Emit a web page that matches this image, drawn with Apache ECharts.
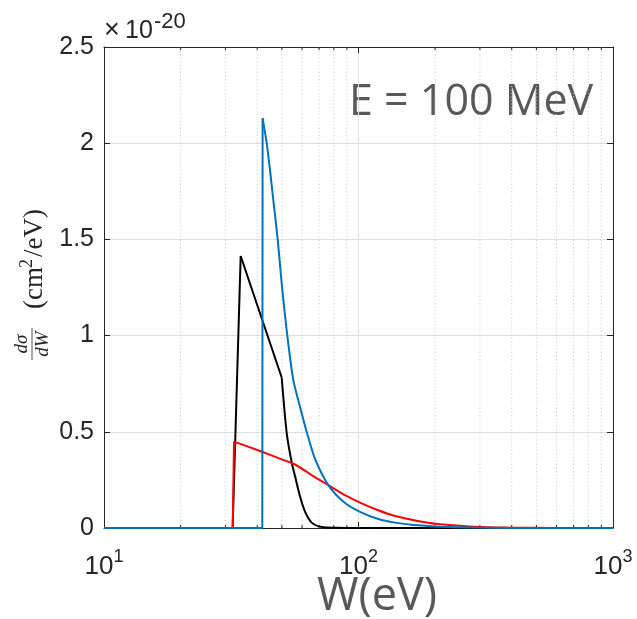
<!DOCTYPE html>
<html>
<head>
<meta charset="utf-8">
<script src="https://cdn.jsdelivr.net/npm/echarts@6/dist/echarts.min.js"></script>
<style>
html,body{margin:0;padding:0;background:#fff;}
#chart{width:637px;height:619px;}
</style>
</head>
<body>
<div id="chart"></div>
<script>
// ---- data (W in eV, dσ/dW in units of 1e-20 cm^2/eV) ----
const blackW = [10, 32.02, 34.44, 49.91, 52.24, 54.65, 56.30, 58.90, 61.64, 65.46, 71.68, 82.08, 100, 1000];
const blackY = [0, 0, 1.414, 0.782, 0.492, 0.34, 0.27, 0.165, 0.085, 0.028, 0.005, 0.001, 0, 0];

const redW = [10, 32.05, 32.43, 41.02, 49.91, 56.30, 65.46, 76.08, 88.50, 102.9, 119.6, 139.2, 161.8, 182.5, 209.1, 282.6, 382.2, 600, 1000];
const redY = [0, 0, 0.449, 0.40, 0.357, 0.33, 0.275, 0.223, 0.171, 0.128, 0.092, 0.062, 0.043, 0.030, 0.019, 0.007, 0.002, 0.0005, 0];

const blueW = [10, 41.88, 42.0, 43.58, 44.90, 46.26, 48.14, 49.91, 52.51, 55.43, 58.90, 62.57, 67.45, 76.08, 88.50, 102.9, 119.6, 139.2, 161.8, 182.5, 209.1, 282.6, 400, 1000];
const blueY = [0, 0, 2.13, 2.0, 1.861, 1.705, 1.5, 1.272, 1.0, 0.77, 0.63, 0.50, 0.36, 0.223, 0.13, 0.08, 0.047, 0.028, 0.017, 0.012, 0.007, 0.002, 0.0005, 0];

// index where each curve's sharp corner ends and the smooth decay begins
const blackCorner = 3, redCorner = 2, blueCorner = 2;

const minorW = [20, 30, 40, 50, 60, 70, 80, 90, 200, 300, 400, 500, 600, 700, 800, 900];

const zip = (xs, ys) => xs.map((x, i) => [x, ys[i]]);

const AX = '#262626';
const GRID = '#dedede';
const C_BLACK = '#000000', C_RED = '#ff0000', C_BLUE = '#0072bd';

const lineSeries = (data, color, z, smooth) => ({
  type: 'line', data, showSymbol: false, symbol: 'none', z, smooth,
  lineStyle: {color, width: 2}, itemStyle: {color}
});

const chart = echarts.init(document.getElementById('chart'), null, {renderer: 'canvas'});

const option = {
  animation: false,
  backgroundColor: '#ffffff',
  grid: {left: 104, right: 24, top: 47, bottom: 91, containLabel: false},
  xAxis: [{
    type: 'log', logBase: 10, min: 10, max: 1000,
    axisLine: {show: true, onZero: false, lineStyle: {color: AX, width: 1}},
    axisTick: {show: true, inside: true, length: 6, lineStyle: {color: AX}},
    splitLine: {show: true, lineStyle: {color: GRID, width: 1}},
    axisLabel: {
      margin: 20, color: AX,
      formatter: v => '{b|10}{s|' + Math.round(Math.log10(v)) + '}',
      rich: {
        b: {fontSize: 26, fontFamily: 'Liberation Sans', color: AX, lineHeight: 32, verticalAlign: 'bottom'},
        s: {fontSize: 18, fontFamily: 'Liberation Sans', color: AX, lineHeight: 18, verticalAlign: 'top'}
      }
    }
  }, {
    type: 'log', logBase: 10, min: 10, max: 1000, position: 'top',
    axisLine: {show: true, onZero: false, lineStyle: {color: AX, width: 1}},
    axisTick: {show: true, inside: true, length: 6, lineStyle: {color: AX}},
    axisLabel: {show: false}, splitLine: {show: false}
  }],
  yAxis: [{
    type: 'value', min: 0, max: 2.5, interval: 0.5,
    axisLine: {show: true, onZero: false, lineStyle: {color: AX, width: 1}},
    axisTick: {show: true, inside: true, length: 6, lineStyle: {color: AX}},
    splitLine: {show: true, lineStyle: {color: GRID, width: 1}},
    axisLabel: {fontSize: 25, fontFamily: 'Liberation Sans', color: AX, margin: 10,
      formatter: v => String(v)}
  }, {
    type: 'value', min: 0, max: 2.5, interval: 0.5, position: 'right',
    axisLine: {show: true, onZero: false, lineStyle: {color: AX, width: 1}},
    axisTick: {show: true, inside: true, length: 6, lineStyle: {color: AX}},
    axisLabel: {show: false}, splitLine: {show: false}
  }],
  series: [{
    type: 'custom', xAxisIndex: 0, yAxisIndex: 0, z: 1, silent: true,
    data: minorW.map(w => [w, 0]),
    encode: {x: 0, y: 1},
    renderItem: (params, api) => {
      const w = api.value(0);
      const p0 = api.coord([w, 0]);
      const p1 = api.coord([w, 2.5]);
      return {
        type: 'group',
        children: [
          {type: 'line', shape: {x1: p0[0], y1: p0[1], x2: p1[0], y2: p1[1]},
           style: {stroke: '#c8c8c8', lineWidth: 1, lineDash: [1, 2.5]}},
          {type: 'line', shape: {x1: p0[0], y1: p0[1], x2: p0[0], y2: p0[1] - 3},
           style: {stroke: AX, lineWidth: 1}},
          {type: 'line', shape: {x1: p1[0], y1: p1[1], x2: p1[0], y2: p1[1] + 3},
           style: {stroke: AX, lineWidth: 1}}
        ]
      };
    }
  },
  lineSeries(zip(blackW, blackY).slice(0, blackCorner + 1), C_BLACK, 3, false),
  lineSeries(zip(blackW, blackY).slice(blackCorner), C_BLACK, 3, 0.25),
  lineSeries(zip(redW, redY).slice(0, redCorner + 1), C_RED, 4, false),
  lineSeries(zip(redW, redY).slice(redCorner), C_RED, 4, 0.25),
  lineSeries(zip(blueW, blueY).slice(0, blueCorner + 1), C_BLUE, 5, false),
  lineSeries(zip(blueW, blueY).slice(blueCorner), C_BLUE, 5, 0.25)
  ],
  graphic: [
    {type: 'text', x: 104, y: 31, silent: true,
     style: {text: '×', fontSize: 27, fontFamily: 'Liberation Sans', fill: AX, verticalAlign: 'middle'}},
    {type: 'text', x: 125, y: 31, silent: true,
     style: {text: '10', fontSize: 25, fontFamily: 'Liberation Sans', fill: AX, verticalAlign: 'middle'}},
    {type: 'text', x: 154, y: 22, silent: true,
     style: {text: '-20', fontSize: 22, fontFamily: 'Liberation Sans', fill: AX, verticalAlign: 'middle'}},
    {type: 'text', x: 349, y: 103, silent: true,
     style: {text: 'E = 100 MeV', fontSize: 43, fontFamily: 'Open Sans', fill: '#595959', verticalAlign: 'middle'}},
    {type: 'text', x: 377, y: 597, silent: true,
     style: {text: 'W(eV)', fontSize: 45, fontFamily: 'Open Sans', fill: '#595959', align: 'center', verticalAlign: 'middle'}},
    {type: 'group', x: 32, y: 362, rotation: Math.PI / 2, silent: true,
     children: [
      {type: 'text', x: 18, y: -1, style: {text: 'dσ', fontSize: 19, fontStyle: 'italic', fontFamily: 'Liberation Serif', fill: AX, align: 'center', verticalAlign: 'bottom'}},
      {type: 'line', shape: {x1: 2, y1: 0, x2: 34, y2: 0}, style: {stroke: AX, lineWidth: 0.8}},
      {type: 'text', x: 18, y: 1, style: {text: 'dW', fontSize: 19, fontStyle: 'italic', fontFamily: 'Liberation Serif', fill: AX, align: 'center', verticalAlign: 'top'}},
      {type: 'text', x: 53, y: 3, style: {text: '(cm', fontSize: 27, fontFamily: 'Liberation Serif', fill: AX, align: 'left', verticalAlign: 'middle'}},
      {type: 'text', x: 94, y: -5, style: {text: '2', fontSize: 18, fontFamily: 'Liberation Serif', fill: AX, align: 'left', verticalAlign: 'middle'}},
      {type: 'text', x: 105, y: 3, style: {text: '/eV)', fontSize: 27, fontFamily: 'Liberation Serif', fill: AX, align: 'left', verticalAlign: 'middle'}}
     ]}
  ]
};

chart.setOption(option);
</script>
</body>
</html>
